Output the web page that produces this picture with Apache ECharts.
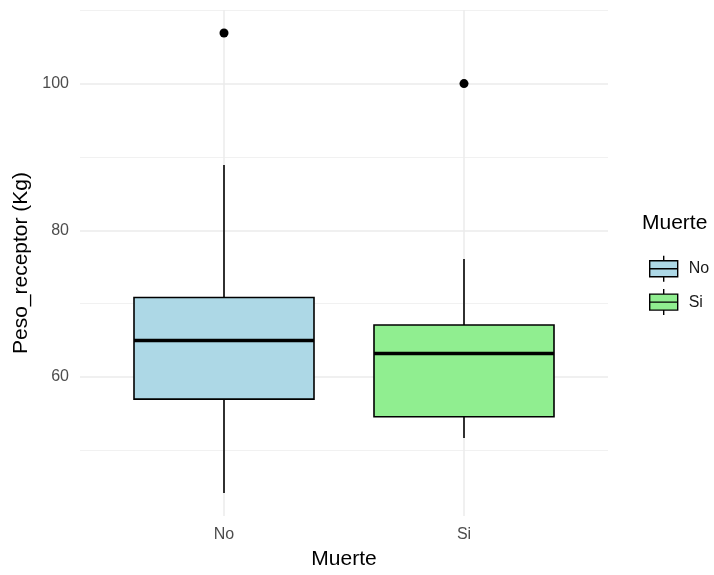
<!DOCTYPE html>
<html>
<head>
<meta charset="utf-8">
<script src="https://cdn.jsdelivr.net/npm/echarts@6/dist/echarts.min.js"></script>
<style>html,body{margin:0;padding:0;background:#fff;}#c{width:714px;height:575px;}</style>
</head>
<body>
<div id="c"></div>
<script>
// ---- data ----
const categories = ['No', 'Si'];
const fillColors = ['#ADD8E6', '#90EE90'];
const whiskerLow = [44.2, 51.7];
const q1 = [57.0, 54.6];
const median = [65.0, 63.2];
const q3 = [70.85, 67.1];
const whiskerHigh = [88.9, 76.1];
const outlierCategory = [1, 2];
const outlierValue = [106.9, 100.0];
const yMajorTicks = [60, 80, 100];
const yMinorTicks = [50, 70, 90, 110];

// ggplot-like 5% expansion
const allVals = whiskerLow.concat(whiskerHigh, outlierValue);
const dMin = Math.min.apply(null, allVals), dMax = Math.max.apply(null, allVals);
const pad = (dMax - dMin) * 0.05;
const yMin = dMin - pad, yMax = dMax + pad;

const chart = echarts.init(document.getElementById('c'), null, {renderer: 'canvas'});

const boxSeries = categories.map(function (name, i) {
  return {
    type: 'custom',
    name: name,
    z: 10,
    itemStyle: {color: fillColors[i]},
    data: [[i + 1, whiskerLow[i], q1[i], median[i], q3[i], whiskerHigh[i]]],
    renderItem: function (params, api) {
      const x = api.value(0);
      const pLo = api.coord([x, api.value(1)]);
      const pQ1 = api.coord([x, api.value(2)]);
      const pMed = api.coord([x, api.value(3)]);
      const pQ3 = api.coord([x, api.value(4)]);
      const pHi = api.coord([x, api.value(5)]);
      const hw = api.size([0.375, 0])[0];
      const lineStyle = {stroke: '#000', lineWidth: 1.6};
      return {
        type: 'group',
        children: [
          {type: 'line', shape: {x1: pHi[0], y1: pHi[1], x2: pQ3[0], y2: pQ3[1]}, style: lineStyle},
          {type: 'line', shape: {x1: pQ1[0], y1: pQ1[1], x2: pLo[0], y2: pLo[1]}, style: lineStyle},
          {type: 'rect', shape: {x: pQ3[0] - hw, y: pQ3[1], width: 2 * hw, height: pQ1[1] - pQ3[1]},
           style: {fill: api.visual('color'), stroke: '#000', lineWidth: 1.6}},
          {type: 'line', shape: {x1: pMed[0] - hw, y1: pMed[1], x2: pMed[0] + hw, y2: pMed[1]},
           style: {stroke: '#000', lineWidth: 3.5}}
        ]
      };
    }
  };
});

const legendIcon = 'path://M0,5 L28,5 L28,21 L0,21 Z M0,13 L28,13 M14,0 L14,5 M14,21 L14,26';

const gridMarks = yMinorTicks.map(function (v) {
  return {yAxis: v, lineStyle: {color: '#f1f1f1', width: 1, type: 'solid'}};
}).concat(yMajorTicks.map(function (v) {
  return {yAxis: v, lineStyle: {color: '#ebebeb', width: 1.5, type: 'solid'}};
})).concat(categories.map(function (c, i) {
  return {xAxis: i + 1, lineStyle: {color: '#ebebeb', width: 1.5, type: 'solid'}};
}));

const option = {
  backgroundColor: '#ffffff',
  animation: false,
  title: {
    text: 'Muerte', left: 642, top: 213, padding: 0,
    textStyle: {fontFamily: 'Liberation Sans', fontSize: 21, fontWeight: 'normal', color: '#000'}
  },
  legend: {
    orient: 'vertical', left: 644, top: 250, itemWidth: 28, itemHeight: 26, itemGap: 6,
    selectedMode: false,
    textStyle: {fontFamily: 'Liberation Sans', fontSize: 16, color: '#1a1a1a', padding: [0, 0, 0, 6]},
    data: categories.map(function (c, i) {
      return {name: c, icon: legendIcon,
        itemStyle: {color: fillColors[i], borderColor: '#000', borderWidth: 1.4}};
    })
  },
  grid: {left: 80, right: 106, top: 10, bottom: 58, containLabel: false},
  xAxis: {
    type: 'value', min: 0.4, max: 2.6,
    name: 'Muerte', nameLocation: 'middle', nameGap: 33,
    nameTextStyle: {fontFamily: 'Liberation Sans', fontSize: 21, color: '#000'},
    axisLine: {show: false}, axisTick: {show: false}, splitLine: {show: false},
    axisLabel: {
      customValues: categories.map(function (c, i) { return i + 1; }),
      formatter: function (v) { return categories[Math.round(v) - 1]; },
      fontFamily: 'Liberation Sans', fontSize: 16, color: '#4d4d4d', margin: 11
    }
  },
  yAxis: {
    type: 'value', min: yMin, max: yMax,
    name: 'Peso_receptor (Kg)', nameLocation: 'middle', nameGap: 44,
    nameTextStyle: {fontFamily: 'Liberation Sans', fontSize: 21, color: '#000'},
    axisLine: {show: false}, axisTick: {show: false}, splitLine: {show: false},
    axisLabel: {
      customValues: yMajorTicks,
      fontFamily: 'Liberation Sans', fontSize: 16, color: '#4d4d4d', margin: 11
    }
  },
  series: [
    {
      type: 'scatter', name: 'grid', data: [], z: 0, silent: true,
      markLine: {silent: true, z: 0, symbol: ['none', 'none'], label: {show: false}, animation: false, data: gridMarks}
    }
  ].concat(boxSeries).concat([
    {
      type: 'scatter', name: 'outliers', z: 12, symbol: 'circle', symbolSize: 9,
      itemStyle: {color: '#000', opacity: 1},
      data: outlierCategory.map(function (c, i) { return [c, outlierValue[i]]; })
    }
  ])
};
chart.setOption(option);
</script>
</body>
</html>
